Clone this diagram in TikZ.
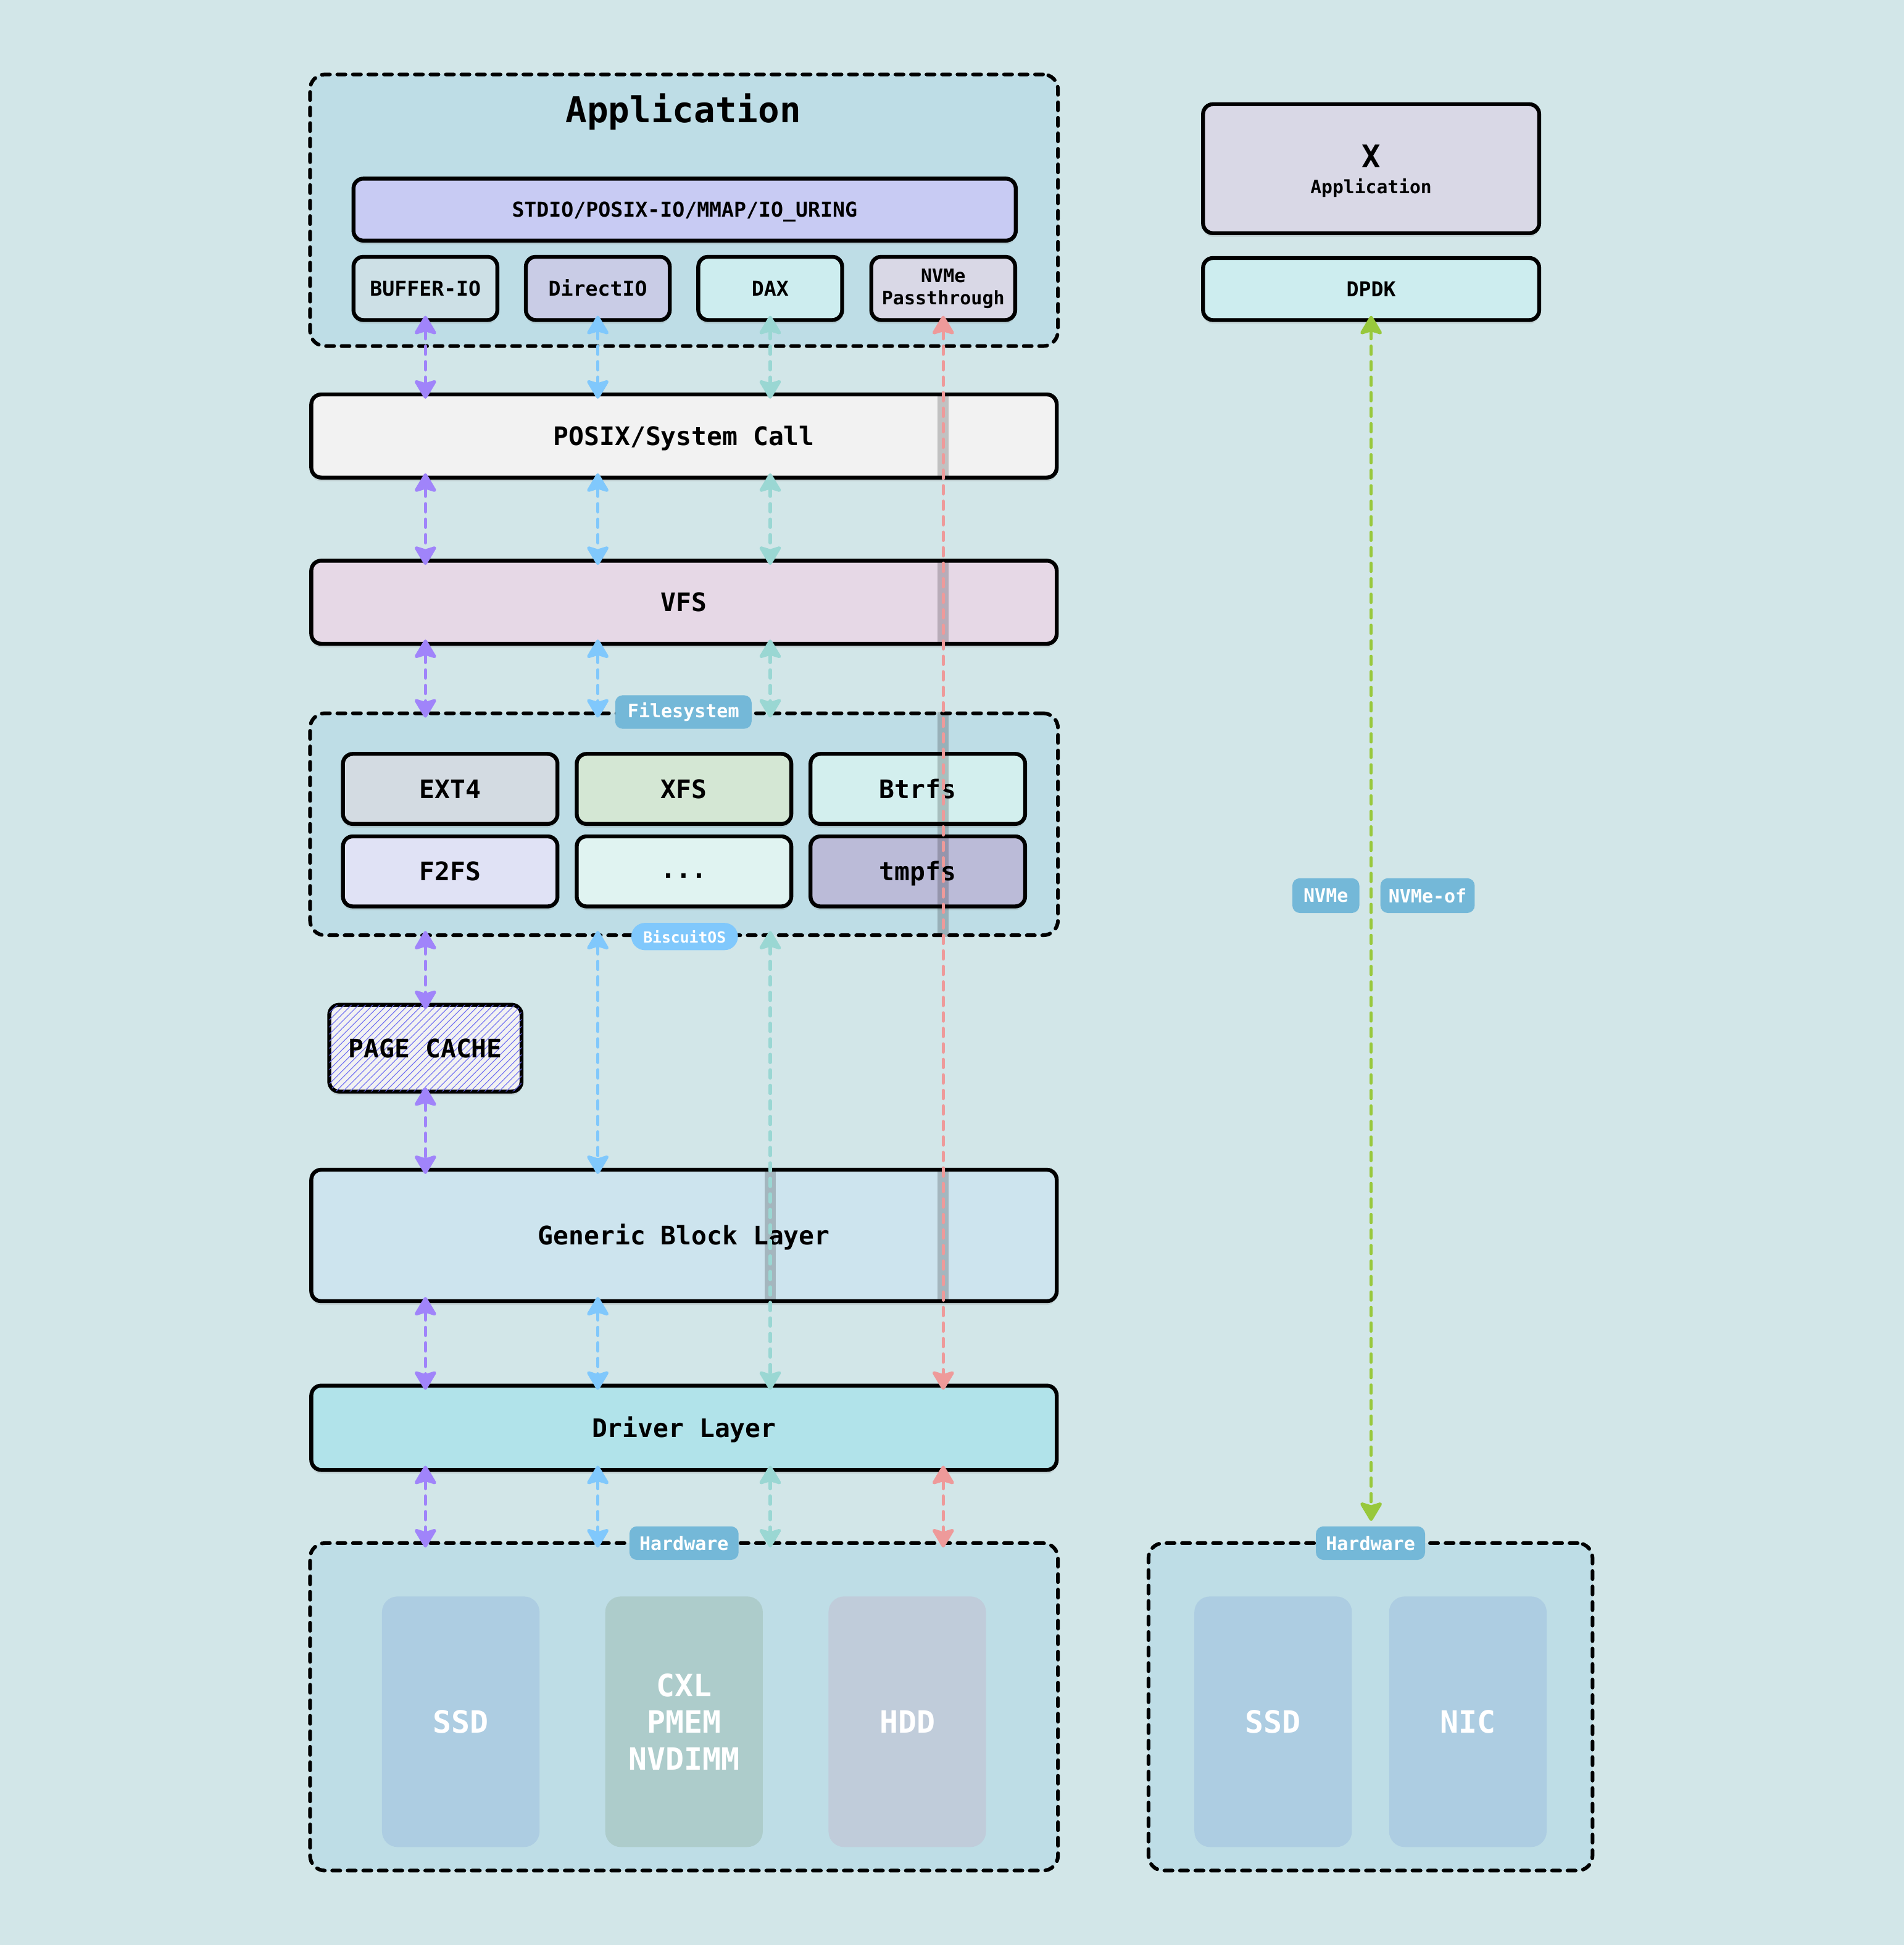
\documentclass[tikz,border=0pt]{standalone}
\usepackage{fontspec}
\setmainfont{DejaVu Sans Mono}
\usetikzlibrary{arrows.meta, calc, shadows, patterns.meta}

\definecolor{bgc}{HTML}{D2E6E8}
\definecolor{grpc}{HTML}{BEDDE6}
\definecolor{stdioc}{HTML}{C8CBF3}
\definecolor{bufc}{HTML}{CDE0E6}
\definecolor{dioc}{HTML}{C9CCE6}
\definecolor{daxc}{HTML}{CDEDEF}
\definecolor{nvmec}{HTML}{D9D8E6}
\definecolor{posixc}{HTML}{F2F2F2}
\definecolor{vfsc}{HTML}{E6D8E6}
\definecolor{extc}{HTML}{D3DBE2}
\definecolor{xfsc}{HTML}{D4E7D4}
\definecolor{btrc}{HTML}{D3EFEE}
\definecolor{f2fc}{HTML}{E0E2F5}
\definecolor{dotc}{HTML}{E0F3F1}
\definecolor{tmpc}{HTML}{BBBBD8}
\definecolor{gblc}{HTML}{CDE4EE}
\definecolor{drvc}{HTML}{B1E3EA}
\definecolor{tagc}{HTML}{74B8D8}
\definecolor{biscc}{HTML}{80C8FC}
\definecolor{ssdc}{HTML}{ADCDE2}
\definecolor{cxlc}{HTML}{ADCCCB}
\definecolor{hddc}{HTML}{C0CCDA}
\definecolor{hatchc}{HTML}{6A6AF2}
\definecolor{cpurple}{HTML}{A084FA}
\definecolor{cblue}{HTML}{80C8FC}
\definecolor{cteal}{HTML}{9AD7D3}
\definecolor{cred}{HTML}{EE9A9A}
\definecolor{cgreen}{HTML}{98C83C}

\begin{document}
\begin{tikzpicture}[
    fbig/.style={font=\bfseries\fontsize{16.3}{19}\selectfont},
    fmid/.style={font=\bfseries\fontsize{11.7}{14}\selectfont, text height=8.5pt, text depth=0pt},
    fsmall/.style={font=\bfseries\fontsize{9.4}{11}\selectfont, text height=6.9pt, text depth=0pt},
    ftag/.style={font=\bfseries\fontsize{8.5}{10}\selectfont},
    box/.style={draw=black, line width=1.8pt, rounded corners=0.16cm, fill=#1, inner sep=0pt,
        drop shadow={shadow xshift=0pt, shadow yshift=-0.06cm, opacity=0.18}},
    grp/.style={draw=black, line width=1.7pt, dash pattern=on 0.13cm off 0.12cm, line cap=round,
        rounded corners=0.24cm, fill=grpc, inner sep=0pt},
    tag/.style={fill=#1, text=white, rounded corners=0.12cm, inner sep=0pt, ftag},
    dev/.style={fill=#1, rounded corners=0.25cm, minimum width=2.54cm, minimum height=4.04cm,
        text=white, align=center, font=\bfseries\fontsize{14.1}{16.8}\selectfont},
    flow/.style={line width=1.5pt, dash pattern=on 0.13cm off 0.12cm, line cap=round,
        >={Stealth[round, length=0.34cm, width=0.4cm, inset=0.06cm]}, <->,
        shorten <=-0.1cm, shorten >=-0.1cm},
    band/.style={fill=black, opacity=0.2}
]
\useasboundingbox (0,0) rectangle (30.7,-31.36);
\fill[bgc] (0,0) rectangle (30.7,-31.36);

\node[grp, minimum width=12.06cm, minimum height=4.38cm] (app) at (11.03,-3.39) {};
\node[grp, minimum width=12.06cm, minimum height=3.58cm] (fsbox) at (11.03,-13.29) {};
\node[grp, minimum width=12.06cm, minimum height=5.28cm] (hwbox) at (11.03,-27.52) {};
\node[grp, minimum width=7.16cm, minimum height=5.28cm] (hwboxR) at (22.1,-27.52) {};

\node[fbig] (apptitle) at (11.02,-1.8) {Application};
\node[box=stdioc, fsmall, minimum width=10.68cm, minimum height=1cm] (stdio) at (11.04,-3.38) {STDIO/POSIX-IO/MMAP/IO\_URING};
\node[box=bufc, fsmall, minimum width=2.32cm, minimum height=1.02cm] (bufio) at (6.86,-4.65) {BUFFER-IO};
\node[box=dioc, fsmall, minimum width=2.32cm, minimum height=1.02cm] (dio) at (9.64,-4.65) {DirectIO};
\node[box=daxc, fsmall, minimum width=2.32cm, minimum height=1.02cm] (dax) at (12.42,-4.65) {DAX};
\node[box=nvmec, minimum width=2.32cm, minimum height=1.02cm, align=center,
    font=\bfseries\fontsize{8.5}{10.2}\selectfont] (nvme) at (15.21,-4.65) {NVMe\\Passthrough};

\node[box=nvmec, minimum width=5.42cm, minimum height=2.08cm] (xapp) at (22.11,-2.72) {};
\node[align=center, inner sep=0pt] at ($(xapp)+(0,-0.04)$)
    {\bfseries\fontsize{14.3}{12}\selectfont X\\\bfseries\fontsize{8.4}{10}\selectfont Application};
\node[box=daxc, fsmall, minimum width=5.42cm, minimum height=1cm] (dpdk) at (22.11,-4.66) {DPDK};

\node[box=posixc, fmid, minimum width=12.02cm, minimum height=1.34cm] (posix) at (11.03,-7.03) {POSIX/System Call};
\node[box=vfsc, fmid, minimum width=12.02cm, minimum height=1.34cm] (vfs) at (11.03,-9.71) {VFS};

\node[box=extc, fmid, minimum width=3.46cm, minimum height=1.13cm] (ext4) at (7.26,-12.72) {EXT4};
\node[box=xfsc, fmid, minimum width=3.46cm, minimum height=1.13cm] (xfs) at (11.03,-12.72) {XFS};
\node[box=btrc, fmid, minimum width=3.46cm, minimum height=1.13cm] (btrfs) at (14.8,-12.72) {Btrfs};
\node[box=f2fc, fmid, minimum width=3.46cm, minimum height=1.13cm] (f2fs) at (7.26,-14.05) {F2FS};
\node[box=dotc, fmid, minimum width=3.46cm, minimum height=1.13cm, text height=6pt] (etc) at (11.03,-14.05) {...};
\node[box=tmpc, fmid, minimum width=3.46cm, minimum height=1.13cm] (tmpfs) at (14.8,-14.05) {tmpfs};
\node[tag=tagc, minimum width=2.2cm, minimum height=0.54cm] (fstag) at (11.02,-11.48) {Filesystem};
\node[tag=biscc, rounded corners=0.22cm, minimum width=1.72cm, minimum height=0.44cm,
    font=\bfseries\fontsize{7}{8}\selectfont] (biscuit) at (11.04,-15.1) {BiscuitOS};

\node[box=posixc, minimum width=3.1cm, minimum height=1.4cm,
    postaction={pattern={Lines[angle=45, distance=2.3pt, line width=0.3pt]}, pattern color=hatchc}] (pcache) at (6.86,-16.9) {};
\node[fmid] at (pcache) {PAGE CACHE};
\node[box=gblc, fmid, minimum width=12.02cm, minimum height=2.12cm] (gbl) at (11.03,-19.92) {Generic Block Layer};
\node[box=drvc, fmid, minimum width=12.02cm, minimum height=1.36cm] (drv) at (11.03,-23.02) {Driver Layer};

\node[tag=tagc, minimum width=1.76cm, minimum height=0.54cm] (hwtag) at (11.03,-24.88) {Hardware};
\node[dev=ssdc] (ssd) at (7.43,-27.76) {SSD};
\node[dev=cxlc] (cxl) at (11.03,-27.76) {CXL\\PMEM\\NVDIMM};
\node[dev=hddc] (hdd) at (14.63,-27.76) {HDD};
\node[tag=tagc, minimum width=1.76cm, minimum height=0.54cm] (hwtagR) at (22.1,-24.88) {Hardware};
\node[dev=ssdc] (ssdR) at (20.53,-27.76) {SSD};
\node[dev=ssdc] (nic) at (23.67,-27.76) {NIC};

\node[tag=tagc, minimum width=1.08cm, minimum height=0.56cm] (nvmetag) at (21.38,-14.44) {NVMe};
\node[tag=tagc, minimum width=1.52cm, minimum height=0.56cm] (nvmeoftag) at (23.02,-14.44) {NVMe-of};

\foreach \b in {posix, vfs, fsbox, gbl}
    \fill[band] ($(nvme.south |- \b.north)+(-0.09,0)$) rectangle ($(nvme.south |- \b.south)+(0.09,0)$);
\fill[band] ($(dax.south |- gbl.north)+(-0.09,0)$) rectangle ($(dax.south |- gbl.south)+(0.09,0)$);

\foreach \c/\col in {bufio/cpurple, dio/cblue, dax/cteal}{
    \draw[flow, \col] (\c.south) -- (\c.south |- posix.north);
    \draw[flow, \col] (\c.south |- posix.south) -- (\c.south |- vfs.north);
    \draw[flow, \col] (\c.south |- vfs.south) -- (\c.south |- fsbox.north);
    \draw[flow, \col] (\c.south |- drv.south) -- (\c.south |- hwbox.north);
}
\draw[flow, cpurple] (bufio.south |- fsbox.south) -- (pcache.north);
\draw[flow, cpurple] (pcache.south) -- (bufio.south |- gbl.north);
\draw[flow, cpurple] (bufio.south |- gbl.south) -- (bufio.south |- drv.north);
\draw[flow, cblue] (dio.south |- fsbox.south) -- (dio.south |- gbl.north);
\draw[flow, cblue] (dio.south |- gbl.south) -- (dio.south |- drv.north);
\draw[flow, cteal] (dax.south |- fsbox.south) -- (dax.south |- drv.north);
\draw[flow, cred] (nvme.south) -- (nvme.south |- drv.north);
\draw[flow, cred] (nvme.south |- drv.south) -- (nvme.south |- hwbox.north);
\draw[flow, cgreen, shorten >=0.08cm] (dpdk.south) -- (dpdk.south |- hwtagR.north);
\end{tikzpicture}
\end{document}
